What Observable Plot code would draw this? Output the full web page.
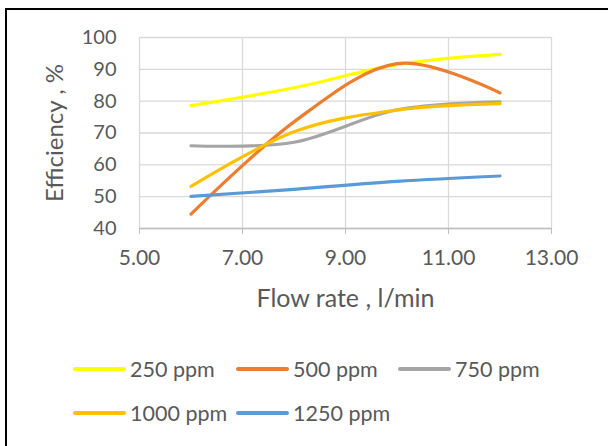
<!DOCTYPE html>
<html><head><meta charset="utf-8">
<script src="https://cdn.jsdelivr.net/npm/d3@7"></script>
<script src="https://cdn.jsdelivr.net/npm/@observablehq/plot@0.6"></script>
<style>
html,body{margin:0;padding:0;background:#fff;width:608px;height:446px;overflow:hidden;font-family:Lato,"Open Sans",sans-serif}
#frame{position:absolute;left:5px;top:8px;width:700px;height:600px;border:2px solid #000;box-sizing:border-box}
#chart{position:absolute;left:0;top:0}
.leg{position:absolute;display:flex;align-items:center;height:26px;font-size:21.5px;line-height:26px;color:#595959;white-space:nowrap}
.sw{width:53px;height:4px;border-radius:2px;margin-right:4px}
</style></head><body>
<div id="frame"></div>
<div id="chart"></div>
<div id="legend"></div>
<script>
const flowRate = [6, 8, 10, 12];
const eff250  = [78.6, 84.2, 91.5, 94.7];
const eff500  = [44.5, 73.5, 91.8, 82.6];
const eff750  = [66.0, 67.1, 77.3, 79.8];
const eff1000 = [53.2, 70.4, 77.2, 79.2];
const eff1250 = [50.1, 52.3, 54.8, 56.5];
const seriesNames  = ["250 ppm", "500 ppm", "750 ppm", "1000 ppm", "1250 ppm"];
const seriesColors = ["#FFFF00", "#ED7D31", "#A5A5A5", "#FFC000", "#5B9BD5"];
const xTicks = [5, 7, 9, 11, 13];
const yTicks = [40, 50, 60, 70, 80, 90, 100];
const xLabel = "Flow rate , l/min";
const yLabel = "Efficiency , %";

const seriesValues = [eff250, eff500, eff750, eff1000, eff1250];
const data = [];
seriesNames.forEach((name, i) => {
  flowRate.forEach((f, j) => data.push({series: name, flow: f, eff: seriesValues[i][j]}));
});

const chart = Plot.plot({
  width: 608,
  height: 320,
  marginLeft: 139,
  marginRight: 57,
  marginTop: 37,
  marginBottom: 92,
  style: {fontFamily: "Lato, 'Open Sans', sans-serif", fontSize: "20px", background: "transparent"},
  x: {domain: [5, 13]},
  y: {domain: [40, 100]},
  color: {domain: seriesNames, range: seriesColors},
  marks: [
    Plot.gridX(xTicks, {stroke: "#d9d9d9", strokeOpacity: 1, strokeWidth: 1.3}),
    Plot.gridY(yTicks, {stroke: "#d9d9d9", strokeOpacity: 1, strokeWidth: 1.3}),
    Plot.ruleY([40], {stroke: "#bfbfbf", strokeWidth: 1.3}),
    Plot.axisX(xTicks, {tickSize: 6, tickPadding: 16, stroke: "#bfbfbf", fill: "#595959", tickFormat: d => d.toFixed(2), label: null, fontSize: 21}),
    Plot.axisY(yTicks, {tickSize: 0, tickPadding: 23, fill: "#595959", label: null, fontSize: 20}),
    Plot.line(data, {x: "flow", y: "eff", z: "series", stroke: "series", strokeWidth: 3.2, curve: "cardinal", tension: 0, strokeLinecap: "round"}),
    Plot.text([xLabel], {frameAnchor: "bottom", dy: 70, fill: "#595959", fontSize: 25, lineAnchor: "middle", textAnchor: "middle"}),
    Plot.text([yLabel], {frameAnchor: "left", dx: -84, rotate: -90, fill: "#595959", fontSize: 24, lineAnchor: "middle", textAnchor: "middle"})
  ]
});
document.getElementById("chart").appendChild(chart);

const legendPos = [[73, 369], [236, 369], [398, 369], [73, 413], [236, 413]];
const legend = document.getElementById("legend");
seriesNames.forEach((name, i) => {
  const item = document.createElement("div");
  item.className = "leg";
  item.style.left = legendPos[i][0] + "px";
  item.style.top = (legendPos[i][1] - 13) + "px";
  const sw = document.createElement("div");
  sw.className = "sw";
  sw.style.background = seriesColors[i];
  const label = document.createElement("span");
  label.textContent = name;
  item.appendChild(sw);
  item.appendChild(label);
  legend.appendChild(item);
});
</script>
</body></html>
